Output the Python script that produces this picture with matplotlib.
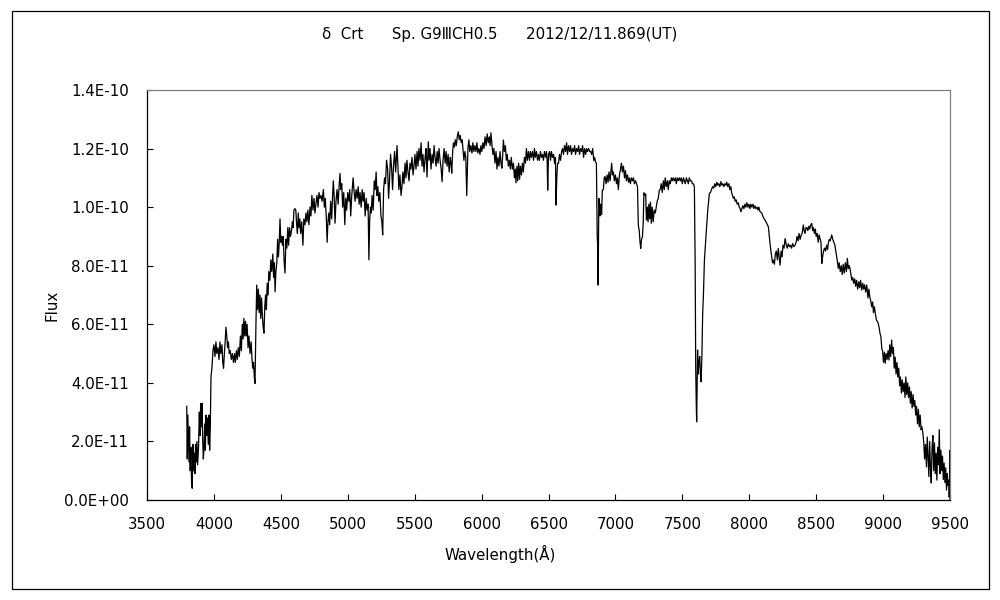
import matplotlib
matplotlib.use("Agg")
import matplotlib.pyplot as plt
from matplotlib.patches import Rectangle

plt.rcParams['font.family'] = ['DejaVu Sans', 'Noto Sans CJK JP']

title = "δ  Crt      Sp. G9ⅢCH0.5      2012/12/11.869(UT)"
x_label = "Wavelength(Å)"
y_label = "Flux"

x_ticks = [3500, 4000, 4500, 5000, 5500, 6000, 6500, 7000, 7500, 8000, 8500, 9000, 9500]
y_ticks = [0.0, 2.0e-11, 4.0e-11, 6.0e-11, 8.0e-11, 1.0e-10, 1.2e-10, 1.4e-10]
y_tick_labels = ["0.0E+00", "2.0E-11", "4.0E-11", "6.0E-11", "8.0E-11",
                 "1.0E-10", "1.2E-10", "1.4E-10"]

# Spectrum: wavelength (Angstrom) and flux (units of 1e-11)
wavelength = [
    3797, 3801, 3805, 3810, 3814, 3818, 3823, 3828, 3833, 3838, 3843, 3848, 3853, 3858,
    3863, 3868, 3873, 3878, 3885, 3891, 3896, 3901, 3906, 3911, 3916, 3921, 3926, 3931,
    3936, 3941, 3946, 3952, 3958, 3963, 3968, 3973, 3978, 3985, 3993,
    4000, 4008, 4015, 4022, 4030, 4038, 4045, 4052, 4060, 4066, 4072, 4078, 4084, 4090,
    4096, 4102, 4108, 4115, 4122, 4130, 4138, 4146, 4154, 4160, 4168, 4175, 4182, 4190,
    4198, 4205, 4212, 4218, 4224, 4230, 4236, 4242, 4248, 4255, 4262, 4270, 4278, 4285,
    4290, 4296, 4302, 4307, 4314, 4320, 4326, 4332, 4338, 4344, 4350, 4356, 4362, 4368,
    4374, 4380, 4386, 4392, 4398, 4405, 4410, 4418, 4425, 4432, 4440, 4446, 4452, 4457,
    4463, 4470, 4476, 4482, 4488, 4494, 4500, 4506, 4512, 4518, 4524, 4531, 4538, 4545,
    4552, 4558, 4565, 4572, 4580, 4586, 4592, 4598, 4605, 4612, 4618, 4624, 4630, 4636,
    4642, 4648, 4656, 4665, 4672, 4680, 4688, 4695, 4702, 4710, 4718, 4725, 4732, 4740,
    4748, 4755, 4762, 4770, 4778, 4785, 4792, 4800, 4808, 4818, 4825, 4832, 4840, 4846,
    4852, 4858, 4865, 4872, 4880, 4886, 4892, 4898, 4905, 4912, 4920, 4928, 4935, 4942,
    4948, 4955, 4962, 4970, 4978, 4985, 4992, 5000, 5008, 5015, 5022, 5030, 5040, 5048,
    5055, 5062, 5070, 5078, 5085, 5092, 5100, 5108, 5115, 5122, 5130, 5138, 5145, 5152,
    5158, 5164, 5170, 5176, 5182, 5190, 5198, 5205, 5212, 5218, 5225, 5232, 5240, 5248,
    5255, 5261, 5268, 5275, 5282, 5290, 5298, 5305, 5312, 5320, 5328, 5335, 5342, 5350,
    5358, 5368, 5375, 5382, 5390, 5398, 5405, 5412, 5420, 5428, 5435, 5442, 5450, 5458,
    5465, 5472, 5480, 5488, 5495, 5502, 5510, 5518, 5525, 5532, 5540, 5548, 5555, 5562,
    5570, 5578, 5585, 5592, 5602, 5608, 5615, 5622, 5630, 5638, 5645, 5652, 5660, 5668,
    5675, 5682, 5690, 5698, 5705, 5712, 5720, 5728, 5735, 5742, 5750, 5758, 5766, 5772,
    5777, 5784, 5790, 5797, 5804, 5811, 5818, 5826, 5833, 5840, 5848, 5855, 5862, 5868,
    5875, 5882, 5889, 5895, 5898, 5905, 5912, 5920, 5928, 5935, 5942, 5950, 5958, 5965,
    5972, 5980, 5988, 5995, 6002, 6010, 6018, 6026, 6034, 6042, 6050, 6058, 6064, 6070,
    6078, 6085, 6092, 6100, 6108, 6115, 6122, 6130, 6138, 6145, 6152, 6158, 6163, 6170,
    6178, 6185, 6192, 6200, 6208, 6215, 6222, 6230, 6238, 6245, 6252, 6257, 6264, 6270,
    6277, 6284, 6290, 6298, 6305, 6312, 6320, 6328, 6335, 6342, 6350, 6358, 6365, 6372,
    6380, 6388, 6395, 6402, 6410, 6418, 6425, 6432, 6440, 6448, 6455, 6462, 6470, 6478,
    6485, 6490, 6494, 6500, 6508, 6515, 6522, 6530, 6538, 6545, 6552, 6556, 6562, 6568,
    6575, 6582, 6590, 6598, 6605, 6612, 6620, 6628, 6635, 6642, 6650, 6658, 6665, 6672,
    6680, 6688, 6695, 6702, 6710, 6718, 6725, 6732, 6740, 6748, 6755, 6762, 6770, 6778,
    6785, 6792, 6800, 6808, 6815, 6822, 6830, 6838, 6845, 6850, 6858, 6864, 6868, 6871,
    6876, 6880, 6885, 6890, 6897, 6902, 6910, 6916, 6922, 6930, 6938, 6945, 6952, 6960,
    6966, 6972, 6978, 6985, 6992, 7000, 7008, 7015, 7022, 7030, 7038, 7045, 7052, 7060,
    7068, 7075, 7082, 7090, 7098, 7105, 7112, 7120, 7128, 7135, 7142, 7150, 7158, 7165,
    7171, 7178, 7184, 7189, 7195, 7202, 7208, 7213, 7220, 7226, 7232, 7238, 7244, 7250,
    7256, 7262, 7268, 7275, 7282, 7290, 7298, 7305, 7312, 7320, 7328, 7335, 7342, 7350,
    7358, 7365, 7372, 7380, 7388, 7395, 7402, 7410, 7418, 7425, 7432, 7440, 7448, 7455,
    7462, 7470, 7478, 7485, 7492, 7500, 7508, 7515, 7522, 7530, 7538, 7545, 7552, 7560,
    7568, 7575, 7582, 7590, 7596, 7600, 7604, 7607, 7610, 7614, 7618, 7624, 7630, 7636,
    7640, 7646, 7652, 7658, 7665, 7672, 7678, 7684, 7690, 7696, 7702, 7710, 7718, 7726,
    7735, 7742, 7750, 7758, 7765, 7772, 7780, 7788, 7795, 7802, 7810, 7818, 7825, 7832,
    7840, 7848, 7855, 7862, 7868, 7875, 7881, 7888, 7895, 7902, 7910, 7918, 7925, 7931,
    7938, 7945, 7952, 7960, 7968, 7975, 7982, 7990, 7998, 8005, 8012, 8020, 8028, 8035,
    8042, 8050, 8058, 8065, 8072, 8080, 8093, 8105, 8118, 8130, 8143, 8150, 8155, 8162,
    8168, 8174, 8180, 8188, 8195, 8202, 8210, 8217, 8224, 8230, 8238, 8245, 8252, 8260,
    8268, 8277, 8284, 8292, 8300, 8308, 8316, 8324, 8332, 8342, 8350, 8357, 8365, 8372,
    8380, 8388, 8395, 8404, 8410, 8417, 8424, 8430, 8438, 8445, 8452, 8460, 8467, 8474,
    8480, 8487, 8494, 8500, 8508, 8515, 8522, 8530, 8536, 8542, 8548, 8555, 8562, 8570,
    8578, 8585, 8592, 8598, 8605, 8616, 8624, 8632, 8640, 8647, 8653, 8660, 8665, 8672,
    8680, 8688, 8695, 8702, 8710, 8718, 8726, 8733, 8740, 8747, 8753, 8760, 8766, 8773,
    8780, 8788, 8795, 8802, 8810, 8818, 8825, 8832, 8840, 8848, 8855, 8862, 8870, 8878,
    8887, 8894, 8900, 8908, 8915, 8922, 8928, 8935, 8942, 8950, 8957, 8964, 8970, 8977,
    8984, 8990, 8996, 9003, 9010, 9016, 9023, 9030, 9037, 9044, 9050, 9057, 9064, 9070,
    9077, 9083, 9090, 9097, 9104, 9110, 9117, 9124, 9130, 9137, 9143, 9150, 9157, 9164,
    9170, 9177, 9184, 9190, 9197, 9204, 9210, 9217, 9224, 9230, 9237, 9244, 9250, 9257,
    9264, 9270, 9277, 9284, 9290, 9297, 9304, 9310, 9317, 9324, 9330, 9336, 9342, 9348,
    9354, 9360, 9366, 9372, 9378, 9384, 9390, 9396, 9402, 9408, 9414, 9420, 9426, 9432,
    9438, 9444, 9450, 9456, 9462, 9468, 9474, 9480, 9485, 9490, 9494, 9497, 9500, 9500,
]

flux_e11 = [
    3.2, 1.4, 2.9, 2.0, 1.3, 2.5, 1.0, 1.8, 0.6, 0.4, 1.9, 1.0, 1.6, 0.9,
    1.9, 1.3, 2.0, 1.2, 1.8, 3.0, 2.2, 3.3, 2.5, 3.3, 2.1, 1.4, 1.8, 2.6,
    1.7, 2.9, 2.2, 2.8, 1.9, 2.9, 1.7, 2.5, 4.2, 4.5, 5.1,
    5.3, 4.9, 5.4, 5.0, 5.2, 4.8, 5.4, 5.0, 5.3, 4.7, 4.5, 5.0, 5.4, 5.9,
    5.6, 5.2, 5.4, 5.0, 5.1, 4.8, 5.0, 4.7, 5.0, 4.7, 5.1, 4.8, 5.2, 4.9,
    5.6, 5.1, 6.0, 5.5, 6.2, 5.6, 6.1, 5.6, 6.0, 5.2, 5.6, 5.0, 5.4, 4.8,
    4.5, 4.7, 4.2, 3.98, 6.0, 7.34, 6.5, 7.2, 6.4, 7.0, 6.2, 6.9, 6.3, 5.9,
    5.7, 6.6, 7.0, 6.5, 7.4, 7.0, 7.8, 7.5, 8.2, 7.8, 8.4, 7.6, 8.1, 7.11,
    7.8, 8.1, 8.9, 8.3, 8.8, 9.6, 8.8, 9.0, 8.7, 9.0, 8.2, 7.75, 8.9, 8.6,
    9.3, 8.7, 9.3, 9.0, 9.2, 9.5, 9.3, 9.9, 9.95, 9.9, 9.4, 9.1, 9.8, 9.3,
    9.6, 9.1, 9.5, 8.7, 9.6, 9.4, 9.8, 9.5, 9.9, 9.4, 10.0, 9.7, 10.4, 9.9,
    10.3, 9.8, 10.1, 10.4, 10.0, 10.5, 10.3, 10.4, 10.2, 10.6, 10.0, 10.3, 9.6, 8.8,
    9.5, 9.8, 9.4, 10.2, 9.6, 10.3, 10.9, 10.4, 9.45, 10.2, 10.6, 10.1, 10.7, 11.15,
    10.6, 10.8, 10.0, 10.5, 9.4, 10.3, 9.9, 10.5, 10.2, 10.6, 9.7, 10.4, 11.0, 10.5,
    10.2, 10.6, 10.3, 10.7, 10.1, 10.5, 10.0, 10.6, 10.2, 10.5, 9.7, 10.3, 9.9, 10.1,
    8.2, 9.6, 10.0, 9.8, 10.4, 9.9, 10.9, 10.6, 11.2, 10.4, 10.7, 10.2, 10.5, 9.7,
    9.5, 9.05, 10.6, 11.0, 10.8, 11.6, 11.3, 10.3, 10.9, 11.8, 11.3, 10.6, 11.4, 11.9,
    11.2, 12.1, 11.4, 10.6, 11.1, 10.4, 10.7, 11.2, 10.8, 11.5, 11.0, 11.6, 11.2, 10.9,
    11.5, 11.3, 11.7, 11.1, 11.4, 11.8, 11.3, 11.9, 11.4, 12.0, 11.6, 12.2, 11.4, 11.8,
    11.2, 11.7, 12.0, 11.03, 12.23, 11.6, 12.0, 11.3, 11.8, 11.5, 12.1, 11.7, 11.4, 11.9,
    11.5, 12.0, 11.6, 11.3, 10.87, 11.6, 12.0, 11.5, 11.9, 11.4, 11.8, 11.2, 11.7, 11.5,
    11.16, 11.9, 12.2, 12.05, 12.3, 12.1, 12.4, 12.57, 12.3, 12.45, 12.2, 12.3, 11.9, 11.6,
    11.9, 11.7, 10.4, 11.5, 12.0, 12.3, 11.9, 12.1, 11.85, 12.2, 11.9, 12.1, 11.9, 12.2,
    11.85, 12.0, 11.8, 12.1, 11.9, 12.2, 12.0, 12.4, 12.1, 12.5, 12.2, 12.4, 12.1, 12.54,
    12.1, 11.8, 12.0, 11.5, 11.9, 11.3, 11.7, 11.4, 11.9, 11.5, 11.33, 11.8, 12.29, 11.9,
    12.1, 11.6, 11.8, 11.4, 11.6, 11.3, 11.7, 11.3, 11.5, 11.0, 11.3, 10.83, 11.4, 10.9,
    11.5, 10.95, 11.4, 11.1, 11.5, 11.2, 11.7, 11.5, 12.0, 11.6, 11.9, 11.6, 11.9, 11.7,
    11.9, 11.6, 12.0, 11.7, 11.9, 11.6, 11.8, 11.6, 11.9, 11.7, 11.8, 11.6, 11.9, 11.7,
    11.9, 11.6, 10.58, 11.8, 11.9, 11.6, 11.9, 11.7, 11.8, 11.5, 11.7, 10.07, 11.0, 11.5,
    11.5, 11.8, 11.6, 11.9, 12.0, 11.8, 12.1, 11.9, 12.2, 11.8, 12.1, 11.9, 12.1, 11.8,
    12.0, 11.9, 12.1, 11.8, 12.0, 11.9, 12.1, 11.8, 12.0, 11.9, 12.1, 11.7, 12.0, 11.8,
    12.0, 11.9, 12.0, 11.9, 11.9, 11.8, 12.0, 11.6, 11.7, 11.55, 11.5, 9.0, 8.6, 7.34,
    10.3, 10.2, 9.7, 10.1, 9.75, 10.58, 10.6, 11.0, 11.04, 10.8, 11.1, 10.85, 11.2, 10.9,
    11.2, 11.5, 11.1, 11.2, 10.9, 11.1, 10.8, 11.0, 10.6, 11.1, 11.3, 11.5, 11.2, 11.4,
    11.0, 11.25, 10.9, 11.1, 10.85, 11.0, 10.8, 11.0, 10.9, 11.0, 10.8, 10.9, 10.8, 10.7,
    9.39, 9.2, 8.8, 8.59, 8.9, 8.99, 9.5, 10.49, 10.4, 10.45, 9.56, 10.0, 9.5, 10.1,
    9.6, 10.17, 9.45, 10.0, 9.5, 9.9, 9.8, 10.0, 10.2, 10.3, 10.58, 10.6, 10.8, 10.5,
    10.9, 10.6, 11.0, 10.7, 10.9, 10.6, 10.9, 10.8, 11.0, 10.9, 11.0, 10.9, 11.0, 10.8,
    11.0, 10.9, 11.0, 10.9, 11.0, 10.8, 11.0, 10.9, 10.8, 11.0, 10.9, 10.8, 11.0, 10.9,
    10.9, 10.8, 10.8, 10.7, 8.0, 4.5, 3.3, 2.67, 3.8, 5.12, 4.3, 4.7, 4.9, 4.2,
    4.04, 4.89, 6.37, 7.06, 8.19, 8.7, 9.1, 9.5, 9.9, 10.2, 10.47, 10.5, 10.6, 10.7,
    10.65, 10.8, 10.7, 10.85, 10.75, 10.8, 10.7, 10.87, 10.75, 10.8, 10.7, 10.8, 10.75, 10.85,
    10.7, 10.8, 10.6, 10.7, 10.5, 10.4, 10.3, 10.35, 10.2, 10.25, 10.1, 10.15, 10.0, 9.96,
    9.84, 9.95, 10.05, 9.95, 10.1, 10.0, 10.15, 10.0, 10.1, 9.95, 10.1, 10.0, 10.1, 9.95,
    10.05, 9.95, 10.0, 9.9, 10.0, 9.85, 9.8, 9.65, 9.56, 9.45, 9.33, 9.0, 8.76, 8.5,
    8.31, 8.1, 8.19, 8.05, 8.4, 8.5, 8.2, 8.59, 8.3, 8.02, 8.5, 8.3, 8.7, 8.6,
    8.93, 8.7, 8.6, 8.75, 8.65, 8.7, 8.6, 8.76, 8.65, 8.7, 8.8, 9.0, 8.85, 9.1,
    8.9, 9.05, 9.1, 9.39, 9.2, 9.1, 9.3, 9.3, 9.2, 9.35, 9.25, 9.4, 9.44, 9.2,
    9.3, 9.1, 9.25, 9.0, 9.1, 8.8, 9.05, 8.9, 8.8, 8.08, 8.3, 8.5, 8.6, 8.5,
    8.7, 8.55, 8.8, 8.9, 8.85, 9.05, 8.9, 8.8, 8.7, 8.5, 8.31, 8.1, 7.91, 8.1,
    7.8, 8.0, 7.7, 8.05, 7.75, 8.1, 7.8, 8.25, 7.9, 8.0, 7.9, 7.7, 7.51, 7.6,
    7.4, 7.55, 7.3, 7.5, 7.2, 7.45, 7.25, 7.5, 7.17, 7.4, 7.2, 7.35, 7.1, 7.34,
    6.9, 7.2, 6.95, 6.8, 6.6, 6.76, 6.4, 6.6, 6.37, 6.15, 6.1, 6.03, 5.9, 5.69,
    5.57, 5.18, 5.1, 4.7, 5.05, 4.67, 5.0, 4.8, 5.1, 4.78, 5.3, 4.9, 5.46, 5.0,
    5.2, 4.5, 4.88, 4.3, 4.7, 4.2, 4.5, 3.9, 4.2, 3.65, 4.1, 3.7, 4.0, 3.5,
    4.2, 3.6, 4.0, 3.5, 3.86, 3.3, 3.7, 3.14, 3.6, 3.2, 3.4, 2.9, 3.2, 2.6,
    3.1, 2.5, 2.9, 2.4, 2.5, 2.3, 1.95, 1.4, 1.9, 1.13, 2.15, 1.5, 0.8, 2.0,
    1.1, 0.58, 1.8, 2.2, 1.0, 1.95, 0.9, 1.6, 0.68, 1.8, 1.2, 2.4, 0.9, 1.7,
    1.0, 1.5, 0.7, 1.26, 0.6, 1.1, 0.34, 0.9, 0.5, 0.68, 0.1, 0.4, 1.7, 0.0,
]

fig = plt.figure(figsize=(10, 6), dpi=100)
fig.patch.set_facecolor("white")

# outer chart border
fig.add_artist(Rectangle((12 / 1000, 1 - 589 / 600), (989 - 12) / 1000, (589 - 11) / 600,
                         transform=fig.transFigure, fill=False, edgecolor="black",
                         linewidth=0.9))

ax = fig.add_axes([0.147, 1 - 500 / 600, 0.803, 410 / 600])
ax.plot(wavelength, [f * 1e-11 for f in flux_e11], color="black", linewidth=0.9)

ax.set_xlim(3500, 9500)
ax.set_ylim(0, 1.4e-10)
ax.set_xticks(x_ticks)
ax.set_xticklabels([str(t) for t in x_ticks])
ax.set_yticks(y_ticks)
ax.set_yticklabels(y_tick_labels)
ax.tick_params(direction="in", length=4, width=0.8, labelsize=10.8)
ax.tick_params(axis="y", pad=13)
ax.tick_params(axis="x", pad=12.5)

for side in ("top", "right"):
    ax.spines[side].set_color("#808080")
for side in ("left", "bottom"):
    ax.spines[side].set_color("black")
for s in ax.spines.values():
    s.set_linewidth(0.9)

fig.text(0.5, 1 - 554 / 600, x_label, ha="center", va="center", fontsize=10.8)
fig.text(52 / 1000, 1 - 305 / 600, y_label, ha="center", va="center",
         rotation=90, fontsize=10.8)
fig.text(0.5, 1 - 34 / 600, title, ha="center", va="center", fontsize=10.8)

fig.savefig("out.png", dpi=100, facecolor="white")
